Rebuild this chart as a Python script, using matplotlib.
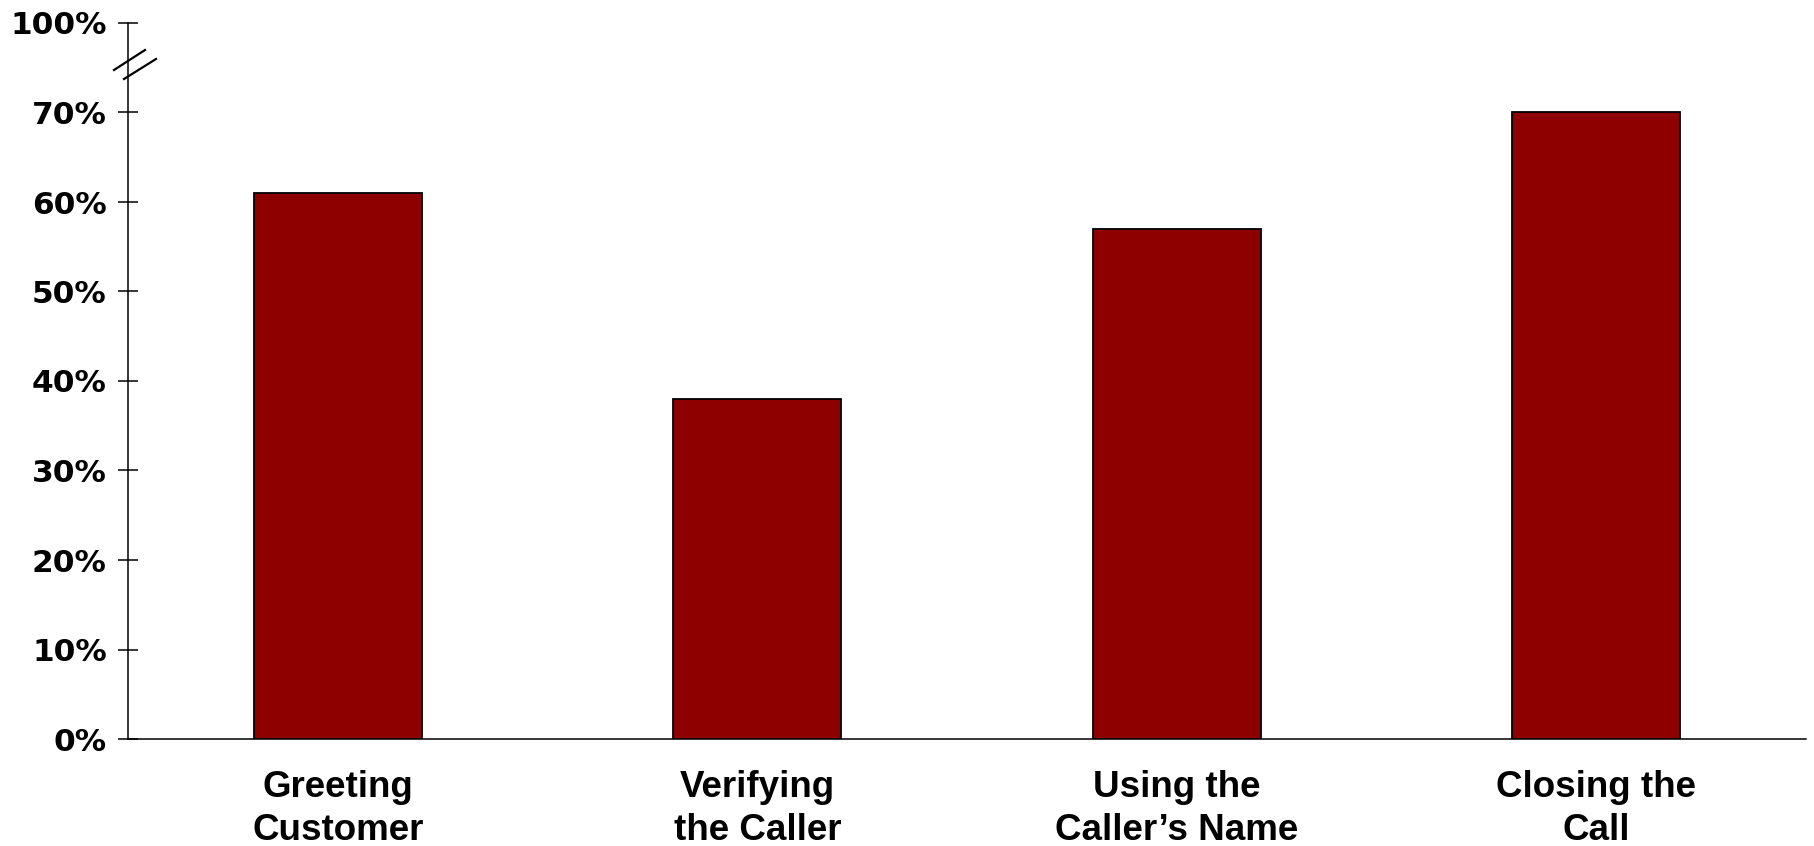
import matplotlib
matplotlib.use("Agg")
import matplotlib.pyplot as plt

# Share of calls handling each step correctly (percent)
categories = ["Greeting\nCustomer", "Verifying\nthe Caller", "Using the\nCaller\u2019s Name", "Closing the\nCall"]
values = [61, 38, 57, 70]
tick_values = [0, 10, 20, 30, 40, 50, 60, 70, 100]
tick_labels = ["0%", "10%", "20%", "30%", "40%", "50%", "60%", "70%", "100%"]

# The axis is broken between 70% and 100%: 100% sits one step above 70%
BREAK_FROM, BREAK_TO = 100, 80

def to_axis(v):
    return BREAK_TO if v == BREAK_FROM else v

fig = plt.figure(figsize=(18.14, 8.46), dpi=100)
ax = fig.add_axes([128 / 1814, 1 - 739 / 846, (1806 - 128) / 1814, (739 - 23) / 846])

x = list(range(len(categories)))
ax.bar(x, values, width=0.4, color="#8e0000", edgecolor="black", linewidth=1.3, zorder=3)

ax.set_xlim(-0.5, len(categories) - 0.5)
ax.set_ylim(0, BREAK_TO)

ax.set_yticks([to_axis(v) for v in tick_values])
ax.set_yticklabels(tick_labels, fontfamily="DejaVu Sans", fontweight="bold", fontsize=22.5)
ax.set_xticks(x)
ax.set_xticklabels(categories, fontfamily="Liberation Sans", fontweight="bold", fontsize=26.5,
                   linespacing=1.3)

ax.tick_params(axis="y", direction="inout", length=14.5, width=1.1, pad=8, color="black")
ax.tick_params(axis="x", length=0, pad=22.5)

for side in ("top", "right"):
    ax.spines[side].set_visible(False)
for side in ("left", "bottom"):
    ax.spines[side].set_linewidth(1.1)
    ax.spines[side].set_color("black")

# Break marks on the y axis between 70% and 100%
tr = fig.transFigure.inverted()
def px(xp, yp):
    return tr.transform(fig.dpi_scale_trans.transform((xp / 100, (846 - yp) / 100)))

for (x0, y0, x1, y1) in [(114, 70, 145, 50), (124, 79, 156, 59)]:
    p0, p1 = px(x0, y0), px(x1, y1)
    fig.add_artist(plt.Line2D([p0[0], p1[0]], [p0[1], p1[1]], transform=fig.transFigure,
                              color="black", linewidth=1.6))

fig.savefig("out.png", dpi=100, facecolor="white")
